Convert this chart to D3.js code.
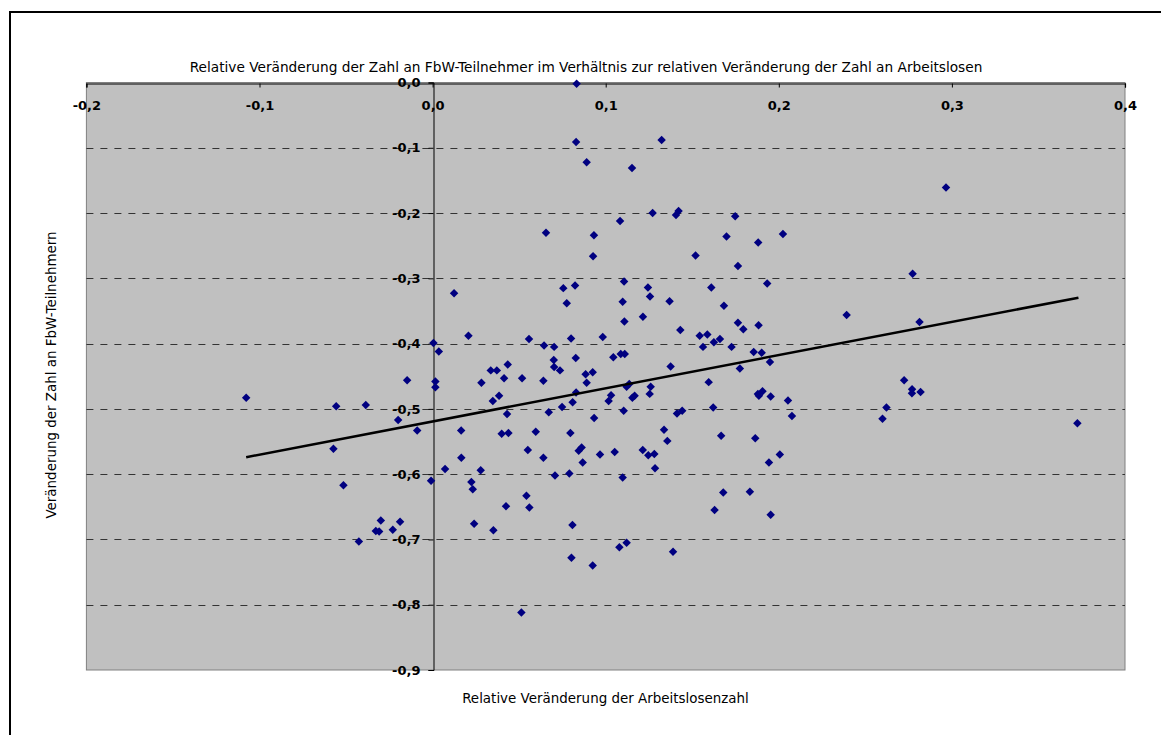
<!DOCTYPE html>
<html>
<head>
<meta charset="utf-8">
<script src="https://cdn.jsdelivr.net/npm/d3@7"></script>
<style>
  html, body { margin: 0; padding: 0; background: #ffffff; }
  svg { display: block; }
  text { font-family: "DejaVu Sans", Verdana, sans-serif; fill: #000; }
  .tick text { font-family: "DejaVu Sans", Verdana, sans-serif; font-weight: bold; font-size: 13px; }
</style>
</head>
<body>
<svg id="chart" width="1161" height="735"></svg>
<script>
// ---- data ----
const chartTitle = "Relative Veränderung der Zahl an FbW-Teilnehmer im Verhältnis zur relativen Veränderung der Zahl an Arbeitslosen";
const xAxisTitle = "Relative Veränderung der Arbeitslosenzahl";
const yAxisTitle = "Veränderung der Zahl an FbW-Teilnehmern";

const xTicks = [-0.2, -0.1, 0.0, 0.1, 0.2, 0.3, 0.4];
const yTicks = [0.0, -0.1, -0.2, -0.3, -0.4, -0.5, -0.6, -0.7, -0.8, -0.9];

const xValues = [
  -0.1077, -0.0557, -0.0386, -0.0147, -0.0199, -0.0089, 0.0005, 0.0036, 0.0016, 0.0016,
  -0.0573, -0.0515, -0.0009, 0.0072, -0.0299, -0.0188, -0.0328, -0.0309, -0.0230, -0.0426,
  0.0124, 0.0207, 0.0755, 0.0823, 0.0775, 0.0557, 0.0644, 0.0702, 0.0800, 0.0983,
  0.0827, 0.0700, 0.0702, 0.0736, 0.0434, 0.0336, 0.0371, 0.0413, 0.0517, 0.0640,
  0.0282, 0.0884, 0.0925, 0.0890, 0.0384, 0.0348, 0.0809, 0.0748, 0.0829, 0.0430,
  0.0671, 0.0933, 0.0165, 0.0399, 0.0438, 0.0596, 0.0796, 0.0550, 0.0640, 0.0166,
  0.0844, 0.0861, 0.0967, 0.0867, 0.0278, 0.0224, 0.0232, 0.0707, 0.0790, 0.0424,
  0.0542, 0.0559, 0.0240, 0.0351, 0.0808, 0.0802, 0.0925, 0.0513, 0.1106, 0.1244,
  0.1256, 0.1098, 0.1369, 0.1610, 0.1683, 0.1933, 0.1215, 0.1108, 0.1431, 0.1764,
  0.1795, 0.1883, 0.1543, 0.1587, 0.1562, 0.1625, 0.1660, 0.1727, 0.1855, 0.1901,
  0.1949, 0.1775, 0.1044, 0.1087, 0.1110, 0.1375, 0.1121, 0.1136, 0.1260, 0.1254,
  0.1031, 0.1017, 0.1154, 0.1167, 0.1595, 0.1885, 0.1906, 0.1879, 0.1953, 0.1104,
  0.1412, 0.1442, 0.1621, 0.1337, 0.1356, 0.1667, 0.1864, 0.1052, 0.1214, 0.1246,
  0.1281, 0.1285, 0.1098, 0.1943, 0.2006, 0.1679, 0.1833, 0.1629, 0.1953, 0.1079,
  0.1121, 0.1389, 0.0832, 0.0829, 0.1323, 0.0890, 0.1152, 0.0655, 0.1083, 0.1271,
  0.1406, 0.1421, 0.0932, 0.0927, 0.1748, 0.1698, 0.1881, 0.2024, 0.1519, 0.1764,
  0.2773, 0.2392, 0.2813, 0.2053, 0.2076, 0.2724, 0.2770, 0.2769, 0.2819, 0.2622,
  0.2599, 0.2966, 0.3725
];
const yValues = [
  -0.483, -0.496, -0.494, -0.456, -0.517, -0.533, -0.399, -0.412, -0.458, -0.467,
  -0.561, -0.617, -0.610, -0.592, -0.671, -0.673, -0.687, -0.688, -0.685, -0.703,
  -0.323, -0.388, -0.315, -0.311, -0.338, -0.393, -0.403, -0.405, -0.392, -0.390,
  -0.422, -0.425, -0.436, -0.441, -0.432, -0.441, -0.441, -0.453, -0.453, -0.457,
  -0.460, -0.447, -0.444, -0.460, -0.480, -0.488, -0.490, -0.497, -0.475, -0.508,
  -0.505, -0.514, -0.533, -0.538, -0.537, -0.535, -0.537, -0.563, -0.575, -0.575,
  -0.564, -0.559, -0.570, -0.582, -0.594, -0.612, -0.623, -0.602, -0.599, -0.649,
  -0.633, -0.651, -0.676, -0.686, -0.678, -0.728, -0.740, -0.812, -0.305, -0.314,
  -0.328, -0.336, -0.335, -0.314, -0.342, -0.308, -0.359, -0.366, -0.379, -0.368,
  -0.378, -0.372, -0.388, -0.386, -0.405, -0.398, -0.393, -0.405, -0.413, -0.414,
  -0.428, -0.438, -0.421, -0.416, -0.416, -0.435, -0.466, -0.462, -0.466, -0.477,
  -0.479, -0.488, -0.483, -0.480, -0.459, -0.480, -0.473, -0.477, -0.481, -0.503,
  -0.507, -0.503, -0.498, -0.532, -0.549, -0.541, -0.545, -0.566, -0.563, -0.571,
  -0.569, -0.591, -0.605, -0.582, -0.570, -0.628, -0.627, -0.655, -0.662, -0.712,
  -0.705, -0.719, -0.002, -0.091, -0.088, -0.122, -0.131, -0.230, -0.212, -0.200,
  -0.203, -0.197, -0.234, -0.266, -0.205, -0.236, -0.245, -0.232, -0.265, -0.281,
  -0.293, -0.356, -0.367, -0.487, -0.511, -0.456, -0.470, -0.476, -0.474, -0.498,
  -0.515, -0.161, -0.522
];
// linear trendline endpoints
const trendX = [-0.1077, 0.3731];
const trendY = [-0.574, -0.3296];

// ---- layout ----
const svg = d3.select("#chart");
const plot = { left: 86.4, right: 1125, top: 82.5, bottom: 670 };

const x = d3.scaleLinear().domain([-0.2, 0.4]).range([plot.left, plot.right]);
const y = d3.scaleLinear().domain([0, -0.9]).range([plot.top, plot.bottom]);
const fmt = v => d3.format(".1f")(v).replace(".", ",").replace("−", "-");

// outer chart border (continues past right and bottom of the view)
svg.append("rect")
  .attr("x", 10).attr("y", 12).attr("width", 1300).attr("height", 900)
  .attr("fill", "none").attr("stroke", "#000").attr("stroke-width", 2);

// plot area
svg.append("rect")
  .attr("x", plot.left).attr("y", plot.top)
  .attr("width", plot.right - plot.left).attr("height", plot.bottom - plot.top)
  .attr("fill", "#c0c0c0").attr("stroke", "#808080").attr("stroke-width", 1);

// gridlines
svg.append("g").selectAll("line")
  .data(yTicks.filter(t => t < 0 && t > -0.9))
  .join("line")
  .attr("x1", plot.left).attr("x2", plot.right)
  .attr("y1", d => Math.round(y(d)) + 0.5).attr("y2", d => Math.round(y(d)) + 0.5)
  .attr("stroke", "#333").attr("stroke-width", 1)
  .attr("stroke-dasharray", "7,7");

// x axis along y = 0 (top)
const xAxis = d3.axisBottom(x).tickValues(xTicks).tickFormat(fmt).tickSize(4).tickPadding(13);
const gx = svg.append("g").attr("transform", `translate(0,${Math.round(y(0)) + 0.5})`).call(xAxis);
gx.attr("font-size", null).attr("font-family", null);
gx.select(".domain").attr("stroke", "#000").attr("stroke-width", 1.2);
gx.selectAll(".tick line").attr("stroke", "#000");
gx.selectAll(".tick text").attr("fill", "#000");

// y axis along x = 0
const yAxis = d3.axisLeft(y).tickValues(yTicks).tickFormat(fmt).tickSize(5).tickPadding(8);
const gy = svg.append("g").attr("transform", `translate(${Math.round(x(0)) + 0.5},0)`).call(yAxis);
gy.attr("font-size", null).attr("font-family", null);
gy.select(".domain").attr("stroke", "#000").attr("stroke-width", 1);
gy.selectAll(".tick line").attr("stroke", "#000");
gy.selectAll(".tick text").attr("fill", "#000");

// markers
const points = xValues.map((v, i) => ({ x: v, y: yValues[i] }));
const diamond = d3.symbol().type(d3.symbolSquare).size(36);
svg.append("g").selectAll("path")
  .data(points)
  .join("path")
  .attr("d", diamond)
  .attr("transform", d => `translate(${x(d.x)},${y(d.y)}) rotate(45)`)
  .attr("fill", "#000080");

// trendline
const trend = trendX.map((v, i) => [v, trendY[i]]);
svg.append("path")
  .datum(trend)
  .attr("d", d3.line().x(d => x(d[0])).y(d => y(d[1])))
  .attr("fill", "none").attr("stroke", "#000").attr("stroke-width", 2.5);

// titles, fitted to the widths seen in the reference
function fitText(sel, targetWidth, baseSize) {
  sel.attr("font-size", baseSize);
  const w = sel.node().getComputedTextLength();
  if (w > 0) sel.attr("font-size", baseSize * targetWidth / w);
}

const t = svg.append("text")
  .attr("x", 586).attr("y", 71.5).attr("text-anchor", "middle")
  .text(chartTitle);
fitText(t, 794, 12);

const xt = svg.append("text")
  .attr("x", 605.5).attr("y", 702.5).attr("text-anchor", "middle")
  .text(xAxisTitle);
fitText(xt, 287, 12);

const yt = svg.append("text")
  .attr("transform", "translate(55.5,375) rotate(-90)")
  .attr("text-anchor", "middle")
  .text(yAxisTitle);
yt.attr("font-size", xt.attr("font-size"));
</script>
</body>
</html>
